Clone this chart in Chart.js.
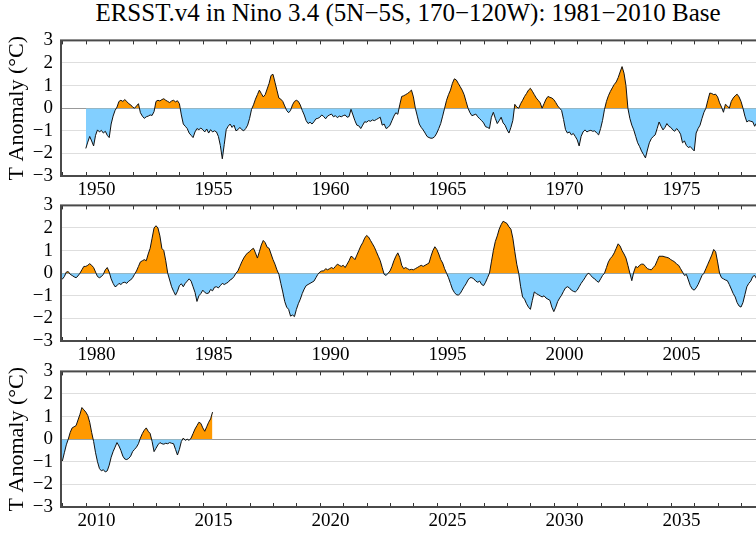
<!DOCTYPE html>
<html>
<head>
<meta charset="utf-8">
<script src="https://cdn.jsdelivr.net/npm/chart.js@4.4.1/dist/chart.umd.min.js"></script>
<style>
  html, body { margin: 0; padding: 0; background: #fff; overflow: hidden; }
  #wrap { position: relative; width: 756px; height: 535px; overflow: hidden; }
  #title { position: absolute; left: 0; top: -1px; width: 816px; text-align: center;
           font: 25px "Liberation Serif", "Times New Roman", serif; color: #000; white-space: nowrap; }
  canvas { position: absolute; left: 0; }
</style>
</head>
<body>
<div id="wrap">
  <div id="title">ERSST.v4 in Nino 3.4 (5N−5S, 170−120W): 1981−2010 Base</div>
  <canvas id="c0" width="790" height="179" style="top:21px"></canvas>
  <canvas id="c1" width="790" height="179" style="top:186px"></canvas>
  <canvas id="c2" width="790" height="179" style="top:352px"></canvas>
</div>
<script>
// monthly Nino 3.4 anomalies (degC), first value = Jan 1950
const firstYear = 1950;
const anom1950s = [
  -1.78, -1.50, -1.25, -1.45, -1.67, -1.20, -0.96, -1.05, -0.98, -1.10, -1.02, -1.20,
  -1.30, -0.70, -0.35, -0.10, 0.05, 0.30, 0.35, 0.30, 0.38, 0.30, 0.20, 0.15,
  0.05, 0.00, 0.10, 0.20, -0.20, -0.35, -0.45, -0.38, -0.35, -0.30, -0.32, -0.15,
  0.30, 0.35, 0.32, 0.38, 0.42, 0.35, 0.30, 0.25, 0.32, 0.35, 0.28, 0.33,
  0.20, -0.30, -0.70, -0.80, -0.90, -1.10, -1.20, -1.30, -1.05, -0.90, -0.95, -0.88,
  -0.95, -1.05, -0.92, -1.10, -0.95, -1.05, -1.00, -1.05, -1.25, -1.65, -2.24, -1.60,
  -0.95, -0.80, -0.70, -0.85, -0.75, -1.00, -0.95, -0.85, -0.95, -1.00, -0.90, -0.75,
  -0.45, -0.05, 0.15, 0.40, 0.60, 0.80, 0.65, 0.50, 0.60, 0.85, 1.10, 1.45,
  1.50, 1.15, 0.80, 0.45, 0.40, 0.30, 0.10, -0.10, -0.20, -0.10, 0.15, 0.30,
  0.35, 0.30, 0.14, -0.10, -0.30, -0.55, -0.68, -0.62, -0.70, -0.60, -0.47, -0.45
];
const anom1960s = [
  -0.40, -0.30, -0.37, -0.47, -0.35, -0.30, -0.26, -0.38, -0.33, -0.42, -0.35, -0.38,
  -0.33, -0.30, -0.40, -0.37, -0.05, -0.30, -0.55, -0.75, -0.78, -0.90, -0.75, -0.60,
  -0.62, -0.55, -0.58, -0.52, -0.55, -0.50, -0.45, -0.40, -0.75, -0.70, -0.90, -0.85,
  -0.75, -0.55, -0.35, -0.20, -0.27, 0.15, 0.52, 0.55, 0.60, 0.65, 0.72, 0.80,
  0.50, 0.00, -0.35, -0.70, -0.85, -0.96, -1.10, -1.25, -1.30, -1.33, -1.32, -1.25,
  -1.10, -0.90, -0.68, -0.35, 0.00, 0.35, 0.60, 0.80, 1.10, 1.30, 1.25, 1.10,
  0.95, 0.80, 0.60, 0.30, 0.00, -0.20, -0.33, -0.30, -0.26, -0.38, -0.47, -0.55,
  -0.65, -0.82, -0.85, -0.90, -0.40, -0.18, -0.45, -0.68, -0.55, -0.40, -0.65, -0.75,
  -0.95, -1.10, -0.85, -0.54, 0.17, 0.05, 0.00, 0.20, 0.35, 0.52, 0.65, 0.80,
  0.88, 0.75, 0.60, 0.45, 0.35, 0.24, 0.00, 0.20, 0.40, 0.52, 0.48, 0.45
];
const anom1970s = [
  0.38, 0.25, 0.10, 0.00, -0.10, -0.50, -0.95, -1.10, -1.05, -1.18, -1.12, -1.25,
  -1.40, -1.67, -1.25, -1.05, -0.96, -1.05, -1.00, -0.98, -1.02, -1.00, -1.10, -1.18,
  -0.90, -0.54, -0.05, 0.30, 0.55, 0.74, 0.90, 1.05, 1.16, 1.35, 1.60, 1.84,
  1.55, 1.00, 0.00, -0.45, -0.75, -0.96, -1.25, -1.53, -1.70, -1.90, -2.05, -2.20,
  -1.85, -1.53, -1.35, -1.25, -1.18, -0.90, -0.61, -0.80, -0.96, -0.85, -0.68, -0.80,
  -0.85, -0.96, -1.02, -0.90, -1.00, -1.15, -1.53, -1.45, -1.65, -1.74, -1.70, -1.80,
  -1.89, -1.10, -0.90, -0.75, -0.45, -0.18, 0.00, 0.35, 0.67, 0.65, 0.60, 0.62,
  0.50, 0.24, 0.05, -0.18, 0.17, 0.10, 0.00, 0.30, 0.45, 0.55, 0.62, 0.50,
  0.30, 0.00, -0.35, -0.61, -0.55, -0.58, -0.60, -0.80, -0.65, -0.50, -0.35, -0.25,
  -0.26, -0.15, 0.05, 0.07, -0.05, -0.10, -0.16, -0.20, -0.12, 0.00, 0.15, 0.30
];
const anom1980s = [
  0.30, 0.35, 0.42, 0.35, 0.25, 0.05, -0.15, -0.20, -0.15, -0.05, 0.15, 0.25,
  0.05, -0.25, -0.45, -0.60, -0.55, -0.45, -0.50, -0.42, -0.40, -0.45, -0.35, -0.30,
  -0.20, -0.05, 0.10, 0.30, 0.50, 0.55, 0.60, 0.55, 0.85, 1.10, 1.55, 2.00,
  2.10, 2.00, 1.65, 1.10, 1.00, 0.55, 0.00, -0.30, -0.60, -0.80, -0.97, -0.80,
  -0.55, -0.47, -0.60, -0.45, -0.35, -0.25, -0.35, -0.60, -0.85, -1.25, -1.00, -0.90,
  -0.75, -0.85, -0.90, -0.88, -0.72, -0.78, -0.62, -0.60, -0.65, -0.55, -0.45, -0.50,
  -0.45, -0.40, -0.30, -0.25, -0.15, 0.00, 0.10, 0.30, 0.50, 0.67, 0.80, 0.90,
  0.95, 1.05, 1.10, 0.90, 0.67, 0.95, 1.25, 1.45, 1.35, 1.15, 1.10, 0.85,
  0.60, 0.40, 0.15, -0.05, -0.45, -0.83, -1.25, -1.50, -1.60, -1.90, -1.85, -1.92,
  -1.60, -1.35, -1.15, -0.90, -0.70, -0.55, -0.50, -0.45, -0.40, -0.35, -0.20, -0.05
];
const anom1990s = [
  0.05, 0.10, 0.10, 0.20, 0.15, 0.20, 0.25, 0.20, 0.30, 0.40, 0.35, 0.30,
  0.35, 0.25, 0.40, 0.55, 0.75, 0.70, 0.60, 0.80, 1.00, 1.20, 1.35, 1.55,
  1.67, 1.60, 1.45, 1.30, 1.15, 0.95, 0.75, 0.55, 0.25, -0.05, -0.10, 0.00,
  0.10, 0.30, 0.55, 0.75, 0.90, 0.70, 0.35, 0.20, 0.25, 0.20, 0.15, 0.17,
  0.15, 0.20, 0.25, 0.30, 0.35, 0.30, 0.35, 0.40, 0.45, 0.75, 1.00, 1.17,
  1.05, 0.85, 0.60, 0.45, 0.20, 0.00, -0.20, -0.45, -0.70, -0.85, -0.95, -0.97,
  -0.90, -0.75, -0.60, -0.47, -0.30, -0.20, -0.20, -0.25, -0.35, -0.40, -0.35, -0.50,
  -0.55, -0.40, -0.20, 0.00, 0.50, 1.00, 1.40, 1.65, 1.95, 2.15, 2.30, 2.25,
  2.20, 2.05, 1.95, 1.55, 0.95, 0.40, 0.00, -0.60, -1.05, -1.15, -1.35, -1.50,
  -1.60, -1.20, -0.83, -0.90, -0.95, -1.00, -1.05, -1.00, -1.10, -1.15, -1.20, -1.50
];
const anom2000s = [
  -1.70, -1.50, -1.25, -1.10, -0.97, -0.80, -0.65, -0.60, -0.65, -0.75, -0.80, -0.83,
  -0.75, -0.60, -0.45, -0.33, -0.20, -0.05, 0.00, -0.10, -0.20, -0.25, -0.35, -0.40,
  -0.25, -0.10, 0.00, 0.25, 0.50, 0.65, 0.75, 0.90, 1.10, 1.30, 1.20, 1.00,
  0.85, 0.67, 0.35, 0.00, -0.33, 0.05, 0.30, 0.25, 0.35, 0.40, 0.40, 0.30,
  0.20, 0.17, 0.15, 0.25, 0.35, 0.55, 0.75, 0.75, 0.75, 0.72, 0.70, 0.67,
  0.60, 0.55, 0.50, 0.40, 0.35, 0.20, 0.05, -0.10, -0.05, -0.30, -0.55, -0.70,
  -0.75, -0.65, -0.50, -0.30, -0.10, 0.00, 0.20, 0.40, 0.60, 0.80, 1.05, 0.95,
  0.50, 0.00, -0.20, -0.25, -0.30, -0.33, -0.50, -0.70, -0.90, -1.05, -1.30, -1.45,
  -1.50, -1.30, -0.95, -0.60, -0.45, -0.35, -0.15, -0.10, -0.25, -0.45, -0.65, -0.85,
  -0.96, -0.60, -0.25, 0.00, 0.30, 0.50, 0.55, 0.60, 0.85, 1.10, 1.40, 1.30
];
const anom2010s = [
  1.20, 1.05, 0.75, 0.30, -0.10, -0.60, -1.00, -1.30, -1.40, -1.35, -1.45, -1.40,
  -1.15, -0.80, -0.55, -0.35, -0.15, -0.30, -0.50, -0.75, -0.88, -0.90, -0.85, -0.75,
  -0.55, -0.45, -0.35, -0.20, 0.05, 0.25, 0.40, 0.50, 0.35, 0.25, -0.10, -0.55,
  -0.40, -0.25, -0.15, -0.20, -0.22, -0.18, -0.20, -0.15, -0.18, -0.20, -0.45, -0.70,
  -0.45, -0.10, 0.05, -0.05, 0.00, -0.05, 0.05, 0.25, 0.45, 0.60, 0.75, 0.70,
  0.50, 0.35, 0.55, 0.75, 0.90, 1.20
];

// each row shows 30 years
const panelStart = [1948.94, 1978.94, 2008.94];
const panelYears = 30;
const xLabelYears = [
  [1950, 1955, 1960, 1965, 1970, 1975],
  [1980, 1985, 1990, 1995, 2000, 2005],
  [2010, 2015, 2020, 2025, 2030, 2035]
];
const yTickValues = [-3, -2, -1, 0, 1, 2, 3];
const yTitle = 'T Anomaly (°C)';

const allAnom = [].concat(anom1950s, anom1960s, anom1970s, anom1980s, anom1990s, anom2000s, anom2010s);
const series = allAnom.map((v, i) => ({ x: firstYear + i / 12, y: v }));

const serif = '"Liberation Serif", "Times New Roman", serif';

// frame + little inward year ticks on top and bottom
const framePlugin = {
  id: 'frame',
  afterDatasetsDraw(chart) {
    const { ctx, chartArea: a, scales: { x } } = chart;
    ctx.save();
    ctx.strokeStyle = '#333';
    ctx.lineWidth = 1;
    for (let yr = Math.ceil(x.min); yr <= x.max; yr++) {
      const px = Math.round(x.getPixelForValue(yr)) + 0.5;
      ctx.beginPath();
      ctx.moveTo(px, a.bottom);
      ctx.lineTo(px, a.bottom - 4);
      ctx.moveTo(px, a.top);
      ctx.lineTo(px, a.top + 4);
      ctx.stroke();
    }
    ctx.strokeStyle = '#4a4a4a';
    ctx.lineWidth = 2;
    ctx.strokeRect(a.left, a.top, a.right - a.left, a.bottom - a.top);
    ctx.restore();
  }
};

function makePanel(k) {
  const xmin = panelStart[k];
  const xmax = xmin + panelYears;
  const pts = series.filter(p => p.x >= xmin - 0.2 && p.x <= xmax + 0.2);

  new Chart(document.getElementById('c' + k), {
    type: 'line',
    data: {
      datasets: [{
        data: pts,
        borderColor: '#111',
        borderWidth: 1,
        pointRadius: 0,
        tension: 0,
        fill: { target: { value: 0 }, above: 'rgb(255,153,0)', below: 'rgb(130,207,255)' }
      }]
    },
    options: {
      responsive: false,
      animation: false,
      devicePixelRatio: 1,
      layout: { padding: { top: 14, right: 27, left: 0, bottom: 0 } },
      plugins: { legend: { display: false }, tooltip: { enabled: false } },
      scales: {
        x: {
          type: 'linear',
          min: xmin,
          max: xmax,
          afterBuildTicks: s => { s.ticks = xLabelYears[k].map(v => ({ value: v })); },
          afterFit: s => { s.height = 24; },
          grid: { display: false, drawTicks: false },
          border: { display: false },
          ticks: {
            autoSkip: false, maxRotation: 0, labelOffset: 10.7, padding: 3,
            color: '#000', font: { family: serif, size: 19 },
            callback: v => String(v)
          }
        },
        y: {
          min: -3,
          max: 3,
          afterBuildTicks: s => { s.ticks = yTickValues.map(v => ({ value: v })); },
          afterFit: s => { s.width = 61; },
          grid: {
            drawTicks: false,
            lineWidth: 1,
            color: c => (c.tick && c.tick.value === 0) ? '#999' : '#dedede'
          },
          border: { display: false },
          ticks: {
            autoSkip: false,
            padding: 8, color: '#000', font: { family: serif, size: 19 },
            callback: v => v < 0 ? '\u2212' + (-v) : String(v)
          },
          title: {
            display: k !== 1,
            text: yTitle,
            color: '#000',
            font: { family: serif, size: 22 },
            padding: { top: 4, bottom: 0 }
          }
        }
      }
    },
    plugins: [framePlugin]
  });
}

[0, 1, 2].forEach(makePanel);
</script>
</body>
</html>
